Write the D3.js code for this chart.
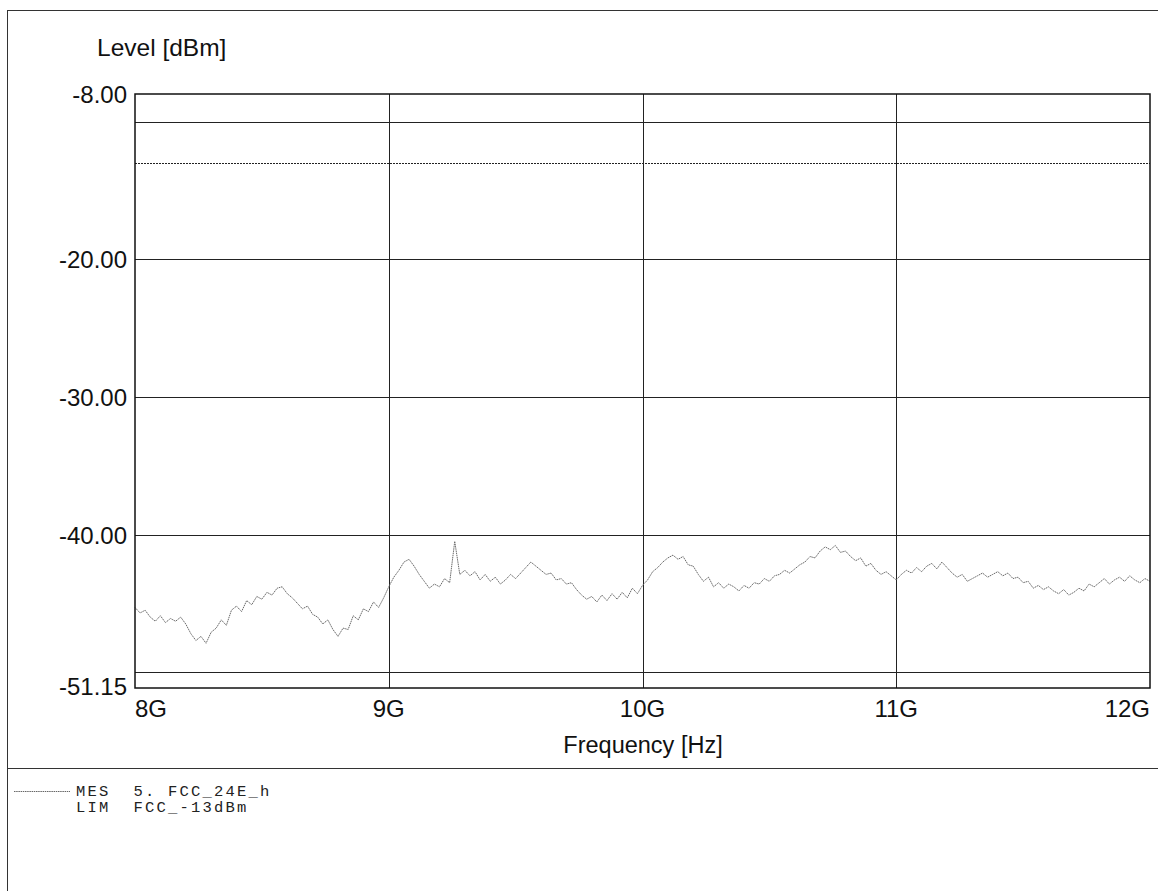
<!DOCTYPE html>
<html>
<head>
<meta charset="utf-8">
<script src="https://cdn.jsdelivr.net/npm/d3@7"></script>
<style>
  body { margin: 0; background: #fff; }
  svg { display: block; }
</style>
</head>
<body>
<svg id="chart" width="1161" height="891"></svg>
<script>
// trace start / step (GHz)
var freqStart = 8.0;
var freqStep = 0.02;
// measured level in dBm, one value every 20 MHz from 8 GHz to 12 GHz
var levels = [
  -45.3, -45.7, -45.5, -46.0, -46.3, -45.9, -46.4, -46.1, -46.3, -46.0,
  -46.5, -47.2, -47.7, -47.4, -47.9, -47.1, -46.8, -46.2, -46.6, -45.5,
  -45.2, -45.6, -44.8, -45.1, -44.5, -44.7, -44.2, -44.4, -43.9, -43.8,
  -44.3, -44.6, -45.0, -45.4, -45.2, -45.8, -46.0, -46.5, -46.2, -46.9,
  -47.4, -46.8, -46.9, -45.9, -46.2, -45.4, -45.6, -44.9, -45.3, -44.6,
  -43.8, -43.1, -42.6, -42.0, -41.8, -42.3, -42.9, -43.4, -43.9, -43.6,
  -43.8, -43.2, -43.5, -40.5, -42.9, -42.6, -43.0, -42.7, -43.3, -42.9,
  -43.4, -43.1, -43.6, -43.3, -42.9, -43.2, -42.8, -42.4, -42.0, -42.3,
  -42.6, -42.9, -42.8, -43.3, -43.2, -43.6, -43.5, -44.0, -44.4, -44.7,
  -44.5, -44.9, -44.4, -44.8, -44.3, -44.7, -44.2, -44.6, -43.9, -44.3,
  -43.7, -43.3, -42.7, -42.4, -42.0, -41.7, -41.5, -41.8, -41.6, -42.2,
  -42.3, -42.9, -43.4, -43.1, -43.8, -43.5, -43.9, -43.6, -43.8, -44.1,
  -43.7, -43.9, -43.5, -43.6, -43.2, -43.4, -43.0, -42.9, -42.6, -42.8,
  -42.5, -42.2, -42.0, -41.6, -41.7, -41.2, -40.9, -41.1, -40.8, -41.3,
  -41.2, -41.6, -41.9, -41.7, -42.3, -42.1, -42.6, -42.9, -42.7, -43.0,
  -43.3, -42.9, -42.6, -42.8, -42.4, -42.7, -42.3, -42.1, -42.5, -42.0,
  -42.4, -42.8, -43.1, -42.9, -43.4, -43.2, -43.0, -42.8, -43.1, -42.9,
  -42.7, -43.0, -42.8, -43.2, -43.1, -43.5, -43.4, -43.9, -43.7, -44.0,
  -43.8, -44.1, -44.3, -44.0, -44.4, -44.2, -43.9, -44.1, -43.6, -43.8,
  -43.5, -43.2, -43.6, -43.3, -43.1, -43.4, -43.0, -43.3, -43.5, -43.2, -43.4
];

var limitLevel = -13;
var yTicks = [-8, -20, -30, -40, -51.15];
var yGrid = [-10, -20, -30, -40, -50];
var xTicks = [8, 9, 10, 11, 12];
var xTickLabels = ["8G", "9G", "10G", "11G", "12G"];
var legendRows = [
  "MES  5. FCC_24E_h",
  "LIM  FCC_-13dBm"
];

var svg = d3.select("#chart");
var plot = { left: 135, right: 1150, top: 94, bottom: 688 };

var x = d3.scaleLinear().domain([8, 12]).range([plot.left, plot.right]);
var y = d3.scaleLinear().domain([-51.15, -8]).range([plot.bottom, plot.top]);

var trace = levels.map(function (v, i) { return [freqStart + i * freqStep, v]; });

// outer frame of the printout
svg.append("line").attr("x1", 7).attr("x2", 1158).attr("y1", 10.5).attr("y2", 10.5)
  .attr("stroke", "#333").attr("stroke-width", 1);
svg.append("line").attr("x1", 7.5).attr("x2", 7.5).attr("y1", 10).attr("y2", 891)
  .attr("stroke", "#333").attr("stroke-width", 1);
svg.append("line").attr("x1", 7).attr("x2", 1158).attr("y1", 768.5).attr("y2", 768.5)
  .attr("stroke", "#333").attr("stroke-width", 1);

// grid
var grid = svg.append("g");
grid.selectAll("line.h").data(yGrid).enter().append("line")
  .attr("x1", plot.left).attr("x2", plot.right)
  .attr("y1", function (d) { return Math.round(y(d)) + 0.5; })
  .attr("y2", function (d) { return Math.round(y(d)) + 0.5; })
  .attr("stroke", "#222").attr("stroke-width", 1);
grid.selectAll("line.v").data(xTicks.slice(1, -1)).enter().append("line")
  .attr("y1", plot.top).attr("y2", plot.bottom)
  .attr("x1", function (d) { return Math.round(x(d)) + 0.5; })
  .attr("x2", function (d) { return Math.round(x(d)) + 0.5; })
  .attr("stroke", "#222").attr("stroke-width", 1);

// limit line
svg.append("line")
  .attr("x1", plot.left).attr("x2", plot.right)
  .attr("y1", Math.round(y(limitLevel)) + 0.5).attr("y2", Math.round(y(limitLevel)) + 0.5)
  .attr("stroke", "#222").attr("stroke-width", 1.2).attr("stroke-dasharray", "2,1");

// measured trace
var line = d3.line().x(function (d) { return x(d[0]); }).y(function (d) { return y(d[1]); });
svg.append("path").datum(trace)
  .attr("d", line)
  .attr("fill", "none")
  .attr("stroke", "#6a6a6a")
  .attr("stroke-width", 1)
  .attr("stroke-dasharray", "1.5,0.7");

// plot border
svg.append("rect")
  .attr("x", plot.left).attr("y", plot.top)
  .attr("width", plot.right - plot.left).attr("height", plot.bottom - plot.top)
  .attr("fill", "none").attr("stroke", "#111").attr("stroke-width", 1.5);

// y labels
var font = "Liberation Sans, Arial, sans-serif";
svg.selectAll("text.ytick").data(yTicks).enter().append("text")
  .attr("x", 127)
  .attr("y", function (d) { return d === -51.15 ? y(d) + 7 : y(d) + 9; })
  .attr("text-anchor", "end")
  .style("font-family", font).style("font-size", "24px").style("fill", "#111")
  .text(function (d) { return d.toFixed(2); });

svg.append("text").attr("x", 97).attr("y", 56)
  .style("font-family", font).style("font-size", "24.5px").style("fill", "#111")
  .text("Level [dBm]");

// x labels
svg.selectAll("text.xtick").data(xTicks).enter().append("text")
  .attr("x", function (d) { return x(d); })
  .attr("y", 717)
  .attr("text-anchor", function (d, i) { return i === 0 ? "start" : (i === xTicks.length - 1 ? "end" : "middle"); })
  .style("font-family", font).style("font-size", "24px").style("fill", "#111")
  .text(function (d, i) { return xTickLabels[i]; });

svg.append("text").attr("x", 643).attr("y", 753).attr("text-anchor", "middle")
  .style("font-family", font).style("font-size", "23.5px").style("fill", "#111")
  .text("Frequency [Hz]");

// legend
var mono = "Liberation Mono, Courier New, monospace";
svg.append("line").attr("x1", 14).attr("x2", 70).attr("y1", 791.5).attr("y2", 791.5)
  .attr("stroke", "#666").attr("stroke-width", 1).attr("stroke-dasharray", "1.5,0.7");
svg.selectAll("text.legend").data(legendRows).enter().append("text")
  .attr("x", 76)
  .attr("y", function (d, i) { return 796 + i * 16; })
  .attr("xml:space", "preserve")
  .style("font-family", mono).style("font-size", "15.5px")
  .style("letter-spacing", "2.2px").style("fill", "#222")
  .text(function (d) { return d; });
</script>
</body>
</html>
